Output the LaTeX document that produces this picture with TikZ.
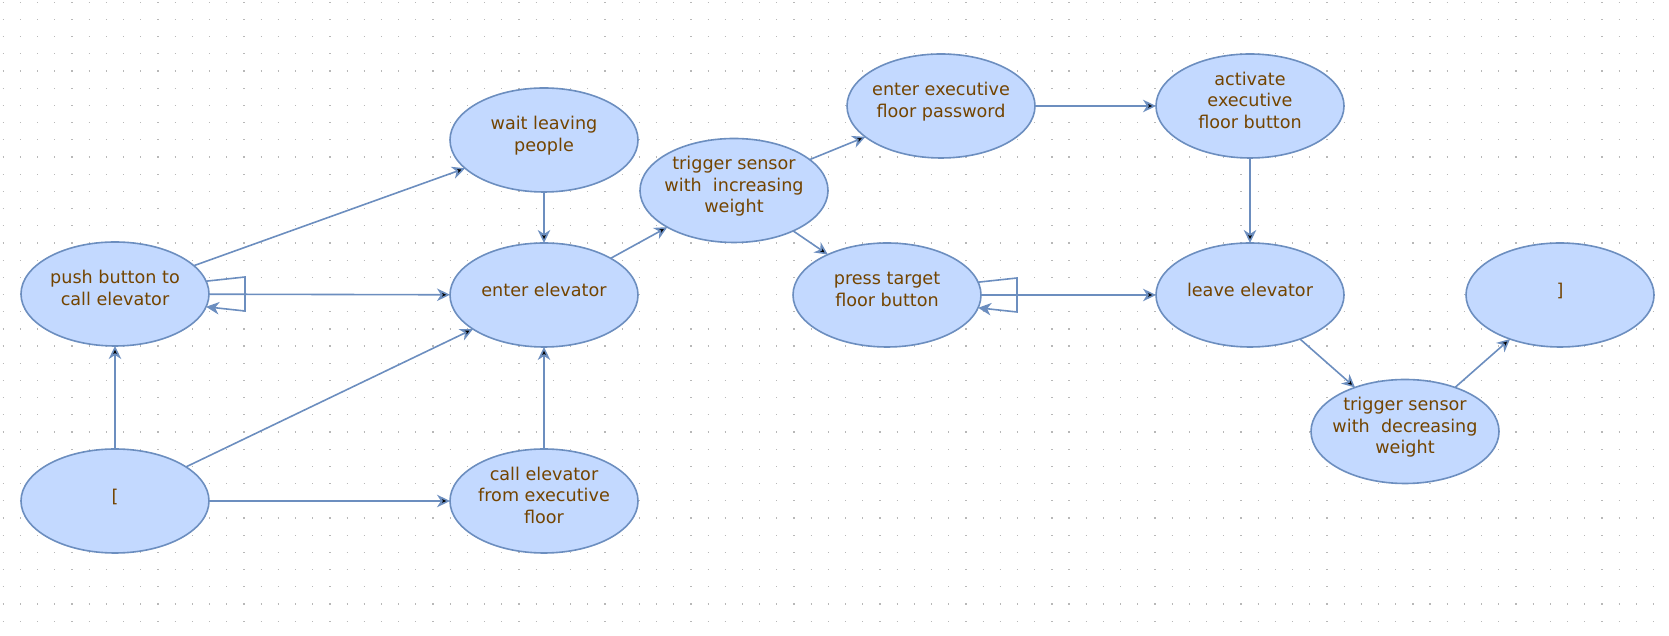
\documentclass[tikz,border=0pt]{standalone}
\usepackage{fontspec}
\setmainfont{DejaVu Sans}
\usepackage{tikz}
\usetikzlibrary{positioning,arrows.meta}
\usetikzlibrary{shapes,shapes.geometric}
\definecolor{stroke}{HTML}{6C8EBF}
\definecolor{fillblue}{HTML}{C3D9FF}
\definecolor{textbrown}{HTML}{734400}
\tikzset{state/.style={
        draw=stroke,
        fill=fillblue,
        ellipse,
        line width=1.6pt,
        outer sep=0pt,
        minimum width=188pt,
        minimum height=104pt,
        inner xsep=-8pt, inner ysep=0pt,
        align=center,
        text=textbrown,
        execute at begin node={\strut},
        execute at end node={\rule[-11.8pt]{0pt}{11.8pt}},
        font=\fontsize{17.6}{21.7}\selectfont } }
\tikzset{flow/.style={
        draw=stroke,
        line width=1.6pt,
        -{Stealth[length=13pt,width=12.5pt,inset=4pt]} } }

\begin{document}
\begin{tikzpicture}[x=1pt,y=1pt]
\useasboundingbox (0,0) rectangle (1669,636);

% dotted grid
\foreach \j in {0,...,36}
  \draw[black!28, line width=1.2pt, dash pattern=on 1.2pt off 15.99pt]
  (2.7,{633.7-17.19*\j}) -- (1669,{633.7-17.19*\j});

\node[state] (start) at (115,135) {[};
\node[state] (push) [above = 103pt of start] {push button to\\ call elevator};
\node[state] (callexec) [right = 241pt of start] {call elevator\\from executive\\ floor};
\node[state] (enter) [above = 102pt of callexec] {enter elevator};
\node[state] (wait) [above = 51pt of enter] {wait leaving\\people};
\node[state] (triginc) at (734,445.5) {trigger sensor\\with\ \ increasing\\weight};
\node[state] (press) [right = 155pt of enter] {press target\\ floor button};
\node[state] (leave) [right = 175pt of press] {leave elevator};
\node[state] (activate) [above = 85pt of leave] {activate\\executive\\ floor button};
\node[state] (password) [left = 121pt of activate] {enter executive\\ floor password};
\node[state] (end) [right = 122pt of leave] {]};
\node[state] (trigdec) at (1405,204.5) {trigger sensor\\with\ \ decreasing\\ weight};

\path[flow]
(start) edge (push)
(start) edge (enter)
(start) edge (callexec)
(callexec) edge (enter)

(push) edge (wait)
(push) edge (enter)
(wait) edge (enter)

(enter) edge (triginc)
(triginc) edge (password)
(triginc) edge (press)
(password) edge (activate)
(activate) edge (leave)
(press) edge (leave)

(leave) edge (trigdec)
(trigdec) edge (end)
;

% self loops
\draw[flow] (push.8) -- ([shift={(36pt,17pt)}]push.east)
  -- ([shift={(36pt,-17pt)}]push.east) -- (push.-8);
\draw[flow] (press.8) -- ([shift={(36pt,17pt)}]press.east)
  -- ([shift={(36pt,-17pt)}]press.east) -- (press.-8);

\end{tikzpicture}
\end{document}
